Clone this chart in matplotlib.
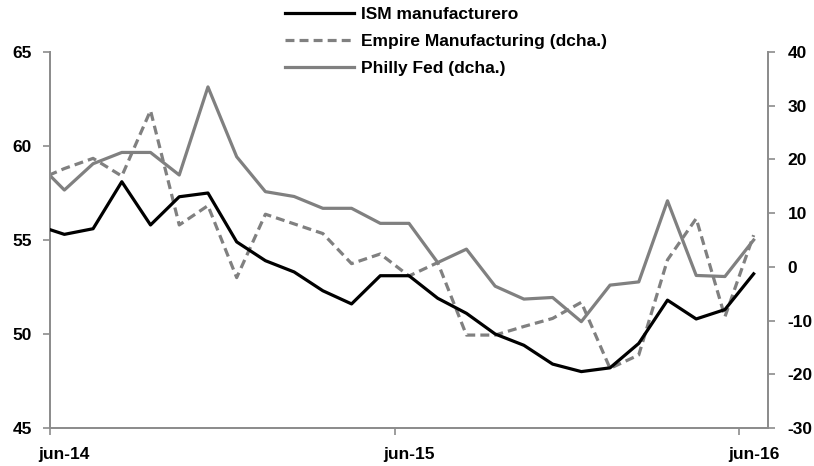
import matplotlib
matplotlib.use('Agg')

import matplotlib.pyplot as plt
import numpy as np
import pandas as pd

# Datos mensuales (may-14 a jun-16); may-14 solo asoma recortado en el borde
meses = pd.period_range('2014-05', '2016-06', freq='M')
ism = [55.8, 55.3, 55.6, 58.1, 55.8, 57.3, 57.5, 54.9, 53.9, 53.3, 52.3, 51.6, 53.1,
       53.1, 51.9, 51.1, 50.0, 49.4, 48.4, 48.0, 48.2, 49.5, 51.8, 50.8, 51.3, 53.2]
empire = [16.0, 18.3, 20.2, 16.9, 29.1, 7.8, 11.4, -2.0, 9.8, 8.0, 6.2, 0.6, 2.4,
          -1.7, 0.8, -12.7, -12.7, -11.1, -9.6, -6.6, -18.9, -16.4, 1.3, 9.0, -9.3, 5.9]
philly = [19.7, 14.3, 19.2, 21.3, 21.3, 17.1, 33.5, 20.5, 14.0, 13.1, 10.9, 10.9, 8.1,
          8.1, 0.8, 3.3, -3.6, -6.0, -5.7, -10.2, -3.4, -2.8, 12.3, -1.6, -1.8, 5.0]
etiquetas = ['jun-14', 'jun-15', 'jun-16']

plt.rcParams['font.family'] = ['Liberation Sans', 'DejaVu Sans']
plt.rcParams['font.weight'] = 'bold'
plt.rcParams['font.size'] = 12.5
plt.rcParams['axes.unicode_minus'] = False

gris = '#808080'
eje = '#8c8c8c'

x = np.arange(len(meses)) - 1  # jun-14 en x=0

fig = plt.figure(figsize=(8.14, 4.66), dpi=100)
ax = fig.add_axes([50 / 814, 1 - 428 / 466, 718 / 814, 376 / 466])
ax2 = ax.twinx()

l1, = ax.plot(x, ism, color='black', lw=2.3, label='ISM manufacturero', zorder=5)
l2, = ax2.plot(x, empire, color=gris, lw=2.3, ls=(0, (2.8, 1.6)), label='Empire Manufacturing (dcha.)')
l3, = ax2.plot(x, philly, color=gris, lw=2.3, label='Philly Fed (dcha.)')
ax.set_zorder(ax2.get_zorder() + 1)
ax.patch.set_visible(False)

ax.set_xlim(-0.5, 24.5)
ax.set_ylim(45, 65)
ax.set_yticks(np.arange(45, 66, 5))
ax2.set_ylim(-30, 40)
ax2.set_yticks(np.arange(-30, 41, 10))

# marcas en los bordes de los meses, etiquetas centradas en el dato
ax.set_xticks([-0.5, 11.5, 23.5])
ax.set_xticklabels([])
ax.set_xticks([0, 12, 24], minor=True)
ax.set_xticklabels(etiquetas, minor=True)
ax.tick_params(axis='x', which='minor', length=0, pad=14)
ax.tick_params(axis='x', which='major', length=5, width=1.2, color=eje)
ax.tick_params(axis='y', length=5, width=1.2, color=eje, pad=8)
ax2.tick_params(axis='y', length=5, width=1.2, color=eje, pad=9)

for a in (ax, ax2):
    a.spines['top'].set_visible(False)
    for s in ('left', 'right', 'bottom'):
        a.spines[s].set_color(eje)
        a.spines[s].set_linewidth(1.3)

fig.legend(handles=[l1, l2, l3], loc='upper left', bbox_to_anchor=(285 / 814, 1 - 7 / 466),
           frameon=False, borderpad=0, borderaxespad=0, handlelength=4.0,
           handletextpad=0.4, labelspacing=0.68, fontsize=12.5)

plt.savefig('out.png', dpi=100)
